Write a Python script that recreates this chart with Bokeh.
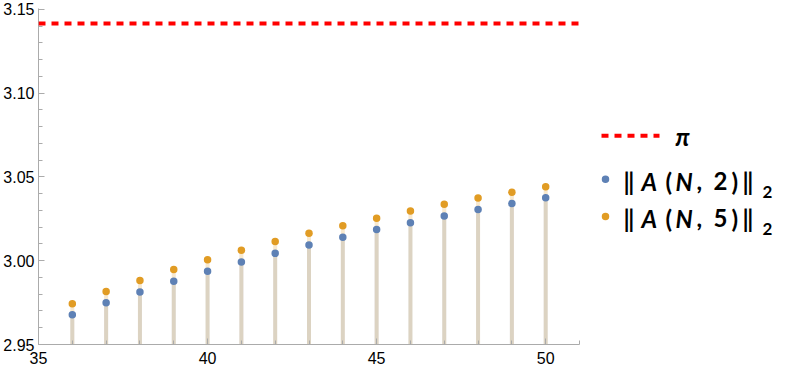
import numpy as np
from bokeh.plotting import figure
from bokeh.models import Range1d, FixedTicker, PrintfTickFormatter, Span
from bokeh.layouts import row
from bokeh.core.properties import value
from bokeh.embed import file_html
from bokeh.resources import INLINE

# ---- data ----
N = [36, 37, 38, 39, 40, 41, 42, 43, 44, 45, 46, 47, 48, 49, 50]
norm_A_N2 = [2.9677, 2.9749, 2.9814, 2.9877, 2.9937, 2.9993, 3.0044, 3.0094,
             3.0140, 3.0186, 3.0227, 3.0267, 3.0305, 3.0341, 3.0375]
norm_A_N5 = [2.9743, 2.9816, 2.9882, 2.9947, 3.0005, 3.0063, 3.0114, 3.0164,
             3.0209, 3.0253, 3.0297, 3.0337, 3.0374, 3.0408, 3.0442]
pi_value = np.pi
y_base = 2.95
x_ticks = [35, 40, 45, 50]
y_ticks = [2.95, 3.00, 3.05, 3.10, 3.15]
x_minor = list(range(35, 52))
y_minor = [round(2.95 + 0.01 * i, 2) for i in range(21)]

BLUE = "#5E81B5"
ORANGE = "#E19C24"
RED = "#FF0000"
AXIS = "#ABABAB"
TXT = "#000000"

H = 370
p = figure(width=585, height=H, title=None,
           x_range=Range1d(35, 51), y_range=Range1d(2.95, 3.1505),
           output_backend="svg", toolbar_location=None,
           min_border_left=37, min_border_right=6, min_border_top=8, min_border_bottom=26)
p.outline_line_color = None
p.grid.visible = False
p.background_fill_color = "white"
p.border_fill_color = "white"

for ax in (p.xaxis[0], p.yaxis[0]):
    ax.axis_line_color = AXIS
    ax.major_tick_line_color = AXIS
    ax.minor_tick_line_color = AXIS
    ax.major_tick_in = 6
    ax.major_tick_out = 0
    ax.minor_tick_in = 4
    ax.minor_tick_out = 0
    ax.major_label_text_font = "Liberation Sans"
    ax.major_label_text_font_size = "16px"
    ax.major_label_text_color = TXT

p.xaxis[0].ticker = FixedTicker(ticks=x_ticks, minor_ticks=x_minor)
p.yaxis[0].ticker = FixedTicker(ticks=y_ticks, minor_ticks=y_minor)
p.xaxis[0].formatter = PrintfTickFormatter(format="%d")
p.yaxis[0].formatter = PrintfTickFormatter(format="%.2f")
p.xaxis[0].major_label_standoff = 7
p.yaxis[0].major_label_standoff = 4

# stems (filling to axis)
p.segment(x0=N, y0=[y_base] * len(N), x1=N, y1=norm_A_N2,
          line_color=BLUE, line_alpha=0.22, line_width=4)
p.segment(x0=N, y0=[y_base] * len(N), x1=N, y1=norm_A_N5,
          line_color=ORANGE, line_alpha=0.22, line_width=4)

# pi line
p.add_layout(Span(location=pi_value, dimension="width", line_color=RED,
                  line_width=4, line_dash="7 6"))

p.scatter(N, norm_A_N2, size=7.5, fill_color=BLUE, line_color=None)
p.scatter(N, norm_A_N5, size=7.5, fill_color=ORANGE, line_color=None)

# ---- legend panel (coordinates in picture pixels) ----
lg = figure(width=200, height=H, x_range=Range1d(585, 785), y_range=Range1d(H, 0),
            x_axis_type=None, y_axis_type=None, output_backend="svg",
            toolbar_location=None, min_border=0)
lg.outline_line_color = None
lg.grid.visible = False

lg.line(x=[601, 659], y=[140, 140], line_color=RED, line_width=4, line_dash="7 6")
lg.text(x=[675], y=[141], text=["π"], text_font=value("Lato"), text_font_style="bold italic",
        text_font_size="24px", text_baseline="middle", text_align="left", text_color=TXT)

lg.scatter(x=[605, 605], y=[188, 229], size=7.5, fill_color=[BLUE, ORANGE], line_color=None)

rows_y = [190, 231]
digits = ["2", "5"]
up_x, up_y, up_t = [], [], []
it_x, it_y, it_t = [], [], []
sb_x, sb_y, sb_t = [], [], []
for yc, d in zip(rows_y, digits):
    up_x += [623, 665, 696, 713, 731, 742]
    up_y += [yc] * 6
    up_t += ["‖", "(", ",", d, ")", "‖"]
    it_x += [641, 675]
    it_y += [yc] * 2
    it_t += ["A", "N"]
    sb_x += [762]
    sb_y += [yc + 12]
    sb_t += ["2"]

lg.text(x=up_x, y=up_y, text=up_t, text_font=value("Lato"), text_font_style="bold",
        text_font_size="24px", text_baseline="middle", text_align="left", text_color=TXT)
lg.text(x=it_x, y=it_y, text=it_t, text_font=value("Lato"), text_font_style="bold italic",
        text_font_size="24px", text_baseline="middle", text_align="left", text_color=TXT)
lg.text(x=sb_x, y=sb_y, text=sb_t, text_font=value("Lato"), text_font_style="bold",
        text_font_size="17px", text_baseline="alphabetic", text_align="left", text_color=TXT)

layout = row(p, lg)
open("out.html", "w").write(file_html(layout, INLINE))
